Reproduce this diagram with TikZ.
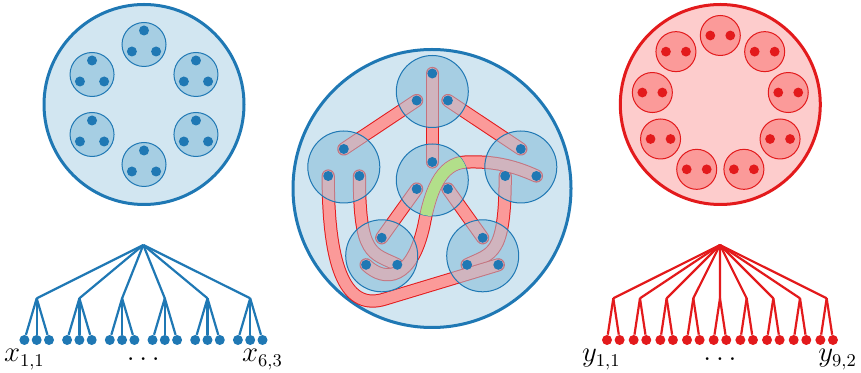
\documentclass[tikz,border=0pt]{standalone}
\usepackage{amsmath}
\usetikzlibrary{calc}

\definecolor{pblue}{HTML}{1F78B4}
\definecolor{plightblue}{HTML}{A6CEE3}
\definecolor{pred}{HTML}{E31A1C}
\definecolor{plightred}{HTML}{FB9A99}
\definecolor{plightgreen}{HTML}{B2DF8A}

\tikzset{
  hull/.style={line width=1.5pt},
  part/.style={line width=0.5pt},
  branch/.style={line width=1.1pt},
  leaf/.style={circle, inner sep=0pt, minimum size=5pt},
  tube/.style={draw=pred, line width=0.5pt, double=plightred, double distance=5.6pt, line cap=round},
}

\begin{document}
\begin{tikzpicture}[x=0.5pt, y=-0.5pt, font=\fontsize{13.5}{16}\selectfont]
    \useasboundingbox (0,0) rectangle (861,373);

    % Left hull: six parts of three
    \coordinate (lc) at (144,104.5);
    \draw[hull, pblue, fill=plightblue!50] (lc) circle (100);
    \foreach \a in {90,30,-30,-90,-150,150} {
        \coordinate (lp) at ($(lc)+({60*cos(\a)},{-60*sin(\a)})$);
        \draw[part, pblue, fill=plightblue] (lp) circle (22);
        \fill[pblue] ($(lp)+(0,-14)$) circle (5) ($(lp)+(-12.1,7)$) circle (5) ($(lp)+(12.1,7)$) circle (5);
    }

    % Right hull: nine parts of two
    \coordinate (rc) at (720.3,104.5);
    \draw[hull, pred, fill=plightred!50] (rc) circle (100);
    \foreach \a in {90,50,...,-230} {
        \coordinate (rp) at ($(rc)+({69*cos(\a)},{-69*sin(\a)})$);
        \draw[part, pred, fill=plightred] (rp) circle (20);
        \fill[pred] ($(rp)+(-10,0)$) circle (4.9) ($(rp)+(10,0)$) circle (4.9);
    }

    % Middle hull
    \coordinate (mc) at (432,188.5);
    \draw[hull, pblue, fill=plightblue!50] (mc) circle (139);
    \foreach \nm/\x/\y in {T/432.3/91.5, C/432.3/180, L/343.8/167, R/520.8/167, BL/381.7/255.8, BR/482.7/255.8} {
        \coordinate (\nm) at (\x,\y);
        \coordinate (\nm-a) at (\x,\y-18);
        \coordinate (\nm-b) at (\x-15.6,\y+9);
        \coordinate (\nm-c) at (\x+15.6,\y+9);
        \fill[plightblue] (\nm) circle (36);
    }

    % Hyperedges
    \draw[tube] (T-b) -- (L-a);
    \draw[tube] (T-a) -- (C-a);
    \draw[tube] (T-c) -- (R-a);
    \draw[tube] (C-b) -- (BL-a);
    \draw[tube] (C-c) -- (BR-a);
    \draw[tube] (L-c) .. controls +(0,80) and +(-25,-12) .. (BL-c);
    \draw[tube] (R-b) .. controls +(0,80) and +(25,-12) .. (BR-b);
    \coordinate (low) at (385,299);
    \draw[tube] (L-b) .. controls +(0,95) and +(-38,12) .. (low) -- (BR-c);
    \coordinate (gbend) at (424,225);
    \coordinate (gtop) at (466,162);
    \draw[tube] (BL-b) .. controls +(19,18) and +(-12,55) .. (gbend) .. controls +(6,-32) and +(-26,1) .. (gtop) .. controls +(28,-1) and +(-22,-10) .. (R-c);

    % Parts over the hyperedges
    \foreach \nm in {T,C,L,R,BL,BR}
        \draw[part, pblue, fill=plightblue, fill opacity=0.5] (\nm) circle (36);

    % Highlight inside the centre part
    \begin{scope}
        \clip (C) circle (36);
        \draw[plightgreen, line width=5.6pt] (BL-b) .. controls +(19,18) and +(-12,55) .. (gbend) .. controls +(6,-32) and +(-26,1) .. (gtop) .. controls +(28,-1) and +(-22,-10) .. (R-c);
    \end{scope}

    \foreach \nm in {T,C,L,R,BL,BR}
        \fill[pblue] (\nm-a) circle (5) (\nm-b) circle (5) (\nm-c) circle (5);

    % Left tree
    \coordinate (xroot) at (143.3,245);
    \foreach \i in {1,...,6} {
        \coordinate (x\i) at ({36.7+42.7*(\i-1)},298.3);
        \draw[branch, pblue] (xroot) -- (x\i);
        \foreach \j in {1,2,3} {
            \node[leaf, fill=pblue] (x\i\j) at ($(x\i)+({12.3*(\j-2)},41.7)$) {};
            \draw[branch, pblue] (x\i) -- (x\i\j);
        }
    }
    \node[anchor=base] (xfirst) at ($(x11)+(0,21.7)$) {$x_{1,1}$};
    \node[anchor=base] (xdots) at ($(xroot)+(0,115)$) {$\ldots$};
    \node[anchor=base] (xlast) at ($(x63)+(0,21.7)$) {$x_{6,3}$};

    % Right tree
    \coordinate (yroot) at (720,245);
    \foreach \i in {1,...,9} {
        \coordinate (y\i) at ({613.3+26.67*(\i-1)},298.3);
        \draw[branch, pred] (yroot) -- (y\i);
        \foreach \j in {1,2} {
            \node[leaf, fill=pred] (y\i\j) at ($(y\i)+({12.6*(\j-1.5)},41.7)$) {};
            \draw[branch, pred] (y\i) -- (y\i\j);
        }
    }
    \node[anchor=base, xshift=-2.8pt] (yfirst) at ($(y11)+(0,21.7)$) {$y_{1,1}$};
    \node[anchor=base] (ydots) at ($(yroot)+(0,115)$) {$\ldots$};
    \node[anchor=base, xshift=2.3pt] (ylast) at ($(y92)+(0,21.7)$) {$y_{9,2}$};
\end{tikzpicture}
\end{document}
